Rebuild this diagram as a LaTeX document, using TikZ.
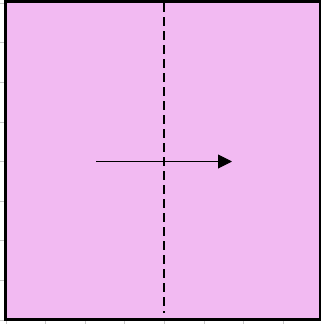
\documentclass[tikz,border=0pt]{standalone}
\usetikzlibrary{arrows.meta}
\definecolor{sqfill}{RGB}{242,186,242}
\definecolor{tickgray}{RGB}{200,200,200}
\begin{document}
\begin{tikzpicture}[x=1pt,y=-1pt,
  border/.style={draw=black,line width=3.5pt,fill=sqfill},
  divider/.style={draw=black,line width=2pt,dash pattern=on 9pt off 5pt},
  motion/.style={draw=black,line width=1pt,-{Triangle[length=14pt,width=14pt]}},
  gridmark/.style={draw=tickgray,line width=1pt}]
\useasboundingbox (0,0) rectangle (321,324);
\clip (0,0) rectangle (321,324);
% faint grid, visible only in the margins
\foreach \k in {0,...,8} {
  \draw[gridmark] ({6+39.6*\k},0) -- ({6+39.6*\k},324);
  \draw[gridmark] (0,{320-39.6*\k}) -- (321,{320-39.6*\k});
}
\draw[border] (5.5,1.2) rectangle (321,319.5);
\coordinate (dtop) at (164,3);
\coordinate (dbot) at (164,313);
\draw[divider] (dtop) -- (dbot);
\coordinate (astart) at (96,161.5);
\coordinate (aend) at (232,161.5);
\draw[motion] (astart) -- (aend);
\end{tikzpicture}
\end{document}
